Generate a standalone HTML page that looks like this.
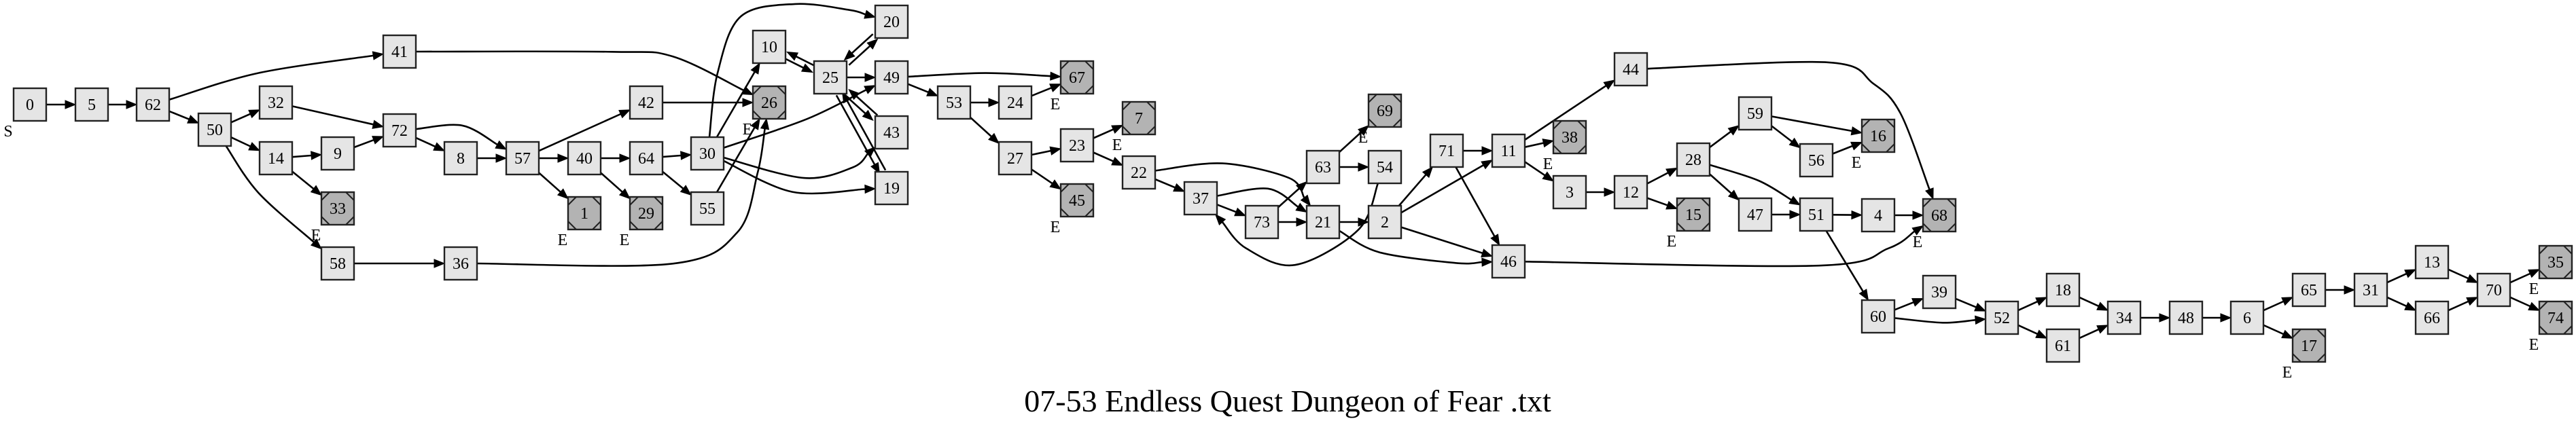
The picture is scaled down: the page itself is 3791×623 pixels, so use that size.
<!DOCTYPE html>
<html><head><meta charset="utf-8"><style>
html,body{margin:0;padding:0;background:#fff;}
svg{display:block;}
text{font-family:"Liberation Serif",serif;fill:#000;}
</style></head><body>
<svg id="g" width="3791" height="623" viewBox="0 0 3791 623" xmlns="http://www.w3.org/2000/svg">
<rect x="0" y="0" width="3791" height="623" fill="#fff"/>
<g id="edges"></g>
<g id="nodes"></g>
<text x="1895" y="606" font-size="46" text-anchor="middle">07-53 Endless Quest Dungeon of Fear .txt</text>
</svg>
<script>
const nodeIds = [0,5,62,41,32,50,72,14,9,33,58,8,57,42,40,64,1,29,30,55,10,26,25,20,49,43,19,36,53,24,67,27,23,7,45,22,37,73,63,21,69,54,2,71,11,38,44,3,12,28,15,59,47,56,51,46,16,4,68,60,39,52,18,61,34,48,6,65,17,31,13,66,70,35,74];
const nodeX = [44,135,225,588,406,316,588,406,497,497,497,678,769,951,860,951,860,951,1041,1041,1132,1132,1222,1312,1312,1312,1312,678,1404,1494,1585,1494,1585,1676,1585,1676,1767,1857,1947,1947,2038,2038,2038,2129,2220,2310,2400,2310,2400,2492,2492,2583,2583,2673,2673,2220,2764,2764,2854,2764,2854,2946,3036,3036,3126,3217,3307,3398,3398,3489,3579,3579,3670,3761,3761];
const nodeY = [154,154,154,76,151,191,192,233,226,307,388,233,233,151,233,233,314,314,226,307,69,151,114,32,114,195,277,388,151,151,114,233,214,174,295,254,292,327,246,327,163,246,327,222,222,202,102,283,283,235,316,167,316,236,316,385,200,317,317,466,430,468,427,509,468,468,468,427,509,427,386,468,427,386,468];
const endNodes = [33,1,29,26,67,7,45,69,38,15,16,68,17,35,74];
const edgeFrom = [0,5,62,62,50,50,50,32,14,14,9,72,72,8,57,57,57,40,40,64,64,42,41,36,58,30,30,30,30,30,55,10,25,25,20,25,25,43,25,19,49,49,53,53,24,27,27,23,23,22,22,37,37,73,73,63,63,21,21,54,2,2,2,71,71,11,11,11,3,12,12,28,28,28,59,59,56,47,51,51,4,44,46,60,60,39,52,52,18,61,34,48,6,6,65,31,31,13,66,70,70];
const edgeTo   = [5,62,41,50,32,14,58,72,9,33,72,57,8,57,42,40,1,64,29,30,55,26,26,26,36,10,20,49,43,19,26,25,10,20,25,49,43,25,19,25,67,53,24,27,67,23,45,7,22,21,37,21,73,63,21,69,54,2,46,37,71,11,46,11,46,44,38,3,12,28,15,59,47,51,16,56,16,51,4,60,68,68,68,39,52,52,18,61,34,34,48,6,65,17,31,13,66,70,70,35,74];

// routing waypoints for curved edges (layout only)
const VS = 0.978;
const via = {
 "62-41":[[380,110]], "50-58":[[380,290]], "72-57":[[680,189]],
 "41-26":[[900,78],[990,85]], "36-26":[[990,397],[1085,350],[1115,260]],
 "30-20":[[1056,110],[1090,25],[1170,6],[1250,15]], "30-49":[[1188,179]],
 "30-43":[[1183,268],[1255,252]], "30-19":[[1166,289]],
 "49-67":[[1450,110]], "22-21":[[1799,246],[1897,268]], "37-21":[[1866,284]],
 "54-37":[[1999,346],[1906,399],[1834,374]], "21-46":[[2030,380],[2142,396]],
 "28-51":[[2588,272]], "44-68":[[2691,94],[2757,126],[2797,171]],
 "46-68":[[2677,400],[2779,374]], "60-52":[[2859,486]]
};
const H = 24, HV = 24;
const idx = id => nodeIds.indexOf(id);
const NS = "http://www.w3.org/2000/svg";
const eg = document.getElementById('edges'), ng = document.getElementById('nodes');
function clip(cx,cy,px,py){
  const dx=px-cx, dy=py-cy;
  const t=Math.min(dx?H/Math.abs(dx):1e9, dy?HV/Math.abs(dy):1e9);
  return [cx+dx*t, cy+dy*t];
}
const pairSet = new Set(edgeFrom.map((f,i)=>f+'-'+edgeTo[i]));
edgeFrom.forEach((f,i)=>{
  const t=edgeTo[i], a=idx(f), b=idx(t);
  const sx=nodeX[a], sy=nodeY[a], tx=nodeX[b], ty=nodeY[b];
  const key=f+'-'+t, w=(via[key]||[]).map(p=>[p[0],p[1]*VS]);
  let pts;
  if(w.length){
    const p0=clip(sx,sy,w[0][0],w[0][1]);
    const pn=clip(tx,ty,w[w.length-1][0],w[w.length-1][1]);
    pts=[p0,...w,pn];
  } else {
    let p0=clip(sx,sy,tx,ty), pn=clip(tx,ty,sx,sy);
    if(pairSet.has(t+'-'+f)){
      const dx=tx-sx, dy=ty-sy, L=Math.hypot(dx,dy), o=5;
      const ox=-dy/L*o, oy=dx/L*o;
      p0=[p0[0]+ox,p0[1]+oy]; pn=[pn[0]+ox,pn[1]+oy];
    }
    pts=[p0,pn];
  }
  const n=pts.length, end=pts[n-1], prev=pts[n-2];
  let dx=end[0]-prev[0], dy=end[1]-prev[1]; const L=Math.hypot(dx,dy); dx/=L; dy/=L;
  const AL=15, AW=6;
  const base=[end[0]-dx*AL, end[1]-dy*AL];
  const P=pts.slice(); P[n-1]=base;
  let d='M'+P[0][0].toFixed(1)+','+P[0][1].toFixed(1);
  if(P.length===2){ d+=' L'+P[1][0].toFixed(1)+','+P[1][1].toFixed(1); }
  else {
    for(let k=0;k<P.length-1;k++){
      const p0=P[k-1]||P[k], p1=P[k], p2=P[k+1], p3=P[k+2]||P[k+1];
      const c1=[p1[0]+(p2[0]-p0[0])/6, p1[1]+(p2[1]-p0[1])/6];
      const c2=[p2[0]-(p3[0]-p1[0])/6, p2[1]-(p3[1]-p1[1])/6];
      d+=' C'+c1[0].toFixed(1)+','+c1[1].toFixed(1)+' '+c2[0].toFixed(1)+','+c2[1].toFixed(1)+' '+p2[0].toFixed(1)+','+p2[1].toFixed(1);
    }
  }
  const path=document.createElementNS(NS,'path');
  path.setAttribute('d',d); path.setAttribute('fill','none'); path.setAttribute('stroke','#000'); path.setAttribute('stroke-width','2.6');
  
  
  eg.appendChild(path);
  const tri=document.createElementNS(NS,'polygon');
  tri.setAttribute('points',[end,[base[0]-dy*AW,base[1]+dx*AW],[base[0]+dy*AW,base[1]-dx*AW]].map(p=>p[0].toFixed(1)+','+p[1].toFixed(1)).join(' '));
  tri.setAttribute('fill','#000'); tri.setAttribute('stroke','#000'); tri.setAttribute('stroke-width','1');
  
  
  eg.appendChild(tri);
});
nodeIds.forEach((id,i)=>{
  const x=nodeX[i], y=nodeY[i], isEnd=endNodes.includes(id);
  const g=document.createElementNS(NS,'g');
  
  
  const r=document.createElementNS(NS,'rect');
  r.setAttribute('x',x-H); r.setAttribute('y',y-HV); r.setAttribute('width',2*H); r.setAttribute('height',2*HV);
  r.setAttribute('fill', isEnd?'#b3b3b3':'#e5e5e5'); r.setAttribute('stroke','#222'); r.setAttribute('stroke-width','2.4');
  g.appendChild(r);
  if(isEnd){
    const c=12, L=x-H, R=x+H, T=y-HV, B=y+HV;
    [[L,T+c,L+c,T],[R-c,T,R,T+c],[L,B-c,L+c,B],[R-c,B,R,B-c]].forEach(s=>{
      const l=document.createElementNS(NS,'line');
      l.setAttribute('x1',s[0]);l.setAttribute('y1',s[1]);l.setAttribute('x2',s[2]);l.setAttribute('y2',s[3]);
      l.setAttribute('stroke','#222'); l.setAttribute('stroke-width','2');
      g.appendChild(l);
    });
  }
  const tx=document.createElementNS(NS,'text');
  tx.setAttribute('x',x); tx.setAttribute('y',y+8); tx.setAttribute('text-anchor','middle'); tx.setAttribute('font-size','24');
  tx.textContent=String(id);
  g.appendChild(tx);
  ng.appendChild(g);
  if(isEnd || id===0){
    const e=document.createElementNS(NS,'text');
    e.setAttribute('x',x-32); e.setAttribute('y',y+47); e.setAttribute('text-anchor','middle'); e.setAttribute('font-size','24');
    e.textContent = id===0 ? 'S' : 'E';
    
    
    ng.appendChild(e);
  }
});
</script>
</body></html>
